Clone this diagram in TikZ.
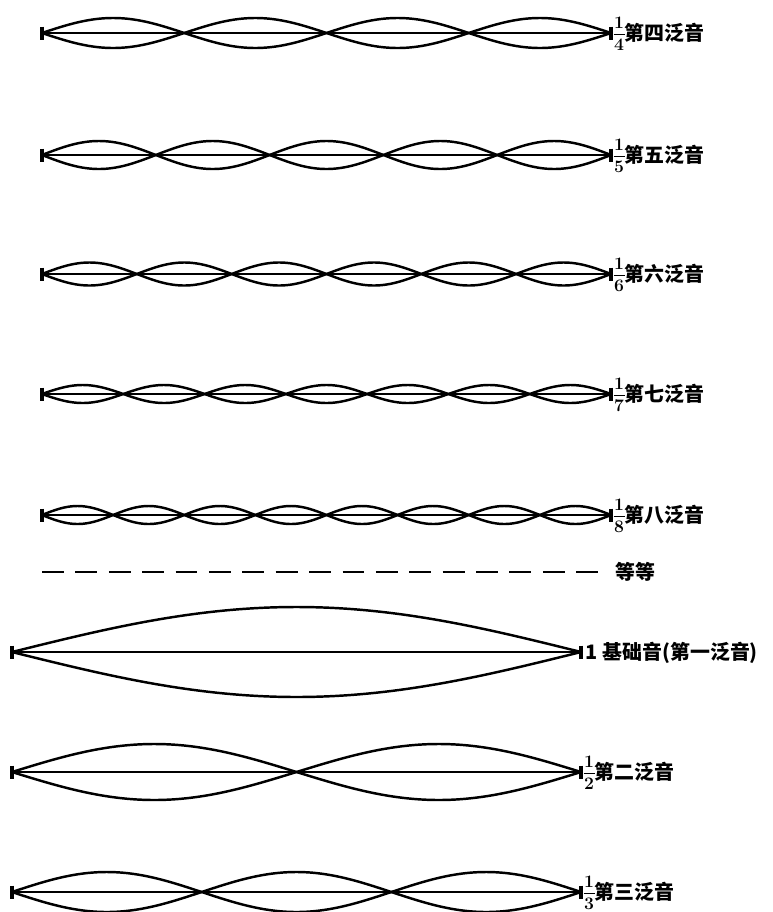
\documentclass[tikz,border=0pt]{standalone}
\usepackage{fontspec}
\newfontfamily\cjk{Noto Sans CJK SC}
\newcommand{\tonbruch}[1]{{\normalfont\bfseries\fontsize{15}{15}\selectfont
    \setlength{\tabcolsep}{0.5pt}%
    \renewcommand{\arraystretch}{1}%
    \raisebox{0pt}{\begin{tabular}{c}1\\\hline\rule{0pt}{14pt}#1\end{tabular}}}}
\begin{document}
\begin{tikzpicture}[
    x = 0.03cm,
    y = -0.03cm,
    saite/.style = {
        line width = 2.1pt,
        line join  = round
    },
    endbar/.style = {
        line width = 2.8pt
    },
    etiq/.style = {
        anchor     = base west,
        yshift     = -6pt,
        inner sep  = 1pt,
        font       = {\cjk\bfseries\fontsize{17}{19}\selectfont}
    }
]

\useasboundingbox (0,0) rectangle (772,912);

% ================================================================
%  OBERTONE 4..8 (Saite von x = 42 bis x = 611, Laenge 569)
%  \n = Nummer, \yb = Zeile, \amp = Ausschlag
% ================================================================

\foreach \n/\yb/\amp/\lab in {4/33/15/四, 5/155/14/五, 6/274/11.5/六,
                              7/394/9/七, 8/515/9/八}{
    \coordinate (a\n) at (42,\yb);
    \coordinate (b\n) at (611,\yb);
    \draw[saite] (a\n) -- (b\n);
    \draw[saite] plot[domain=0:569, samples=240]
        ({42+\x}, {\yb - \amp*sin(\n*180/569*\x)});
    \draw[saite] plot[domain=0:569, samples=240]
        ({42+\x}, {\yb + \amp*sin(\n*180/569*\x)});
    \draw[endbar] (a\n) ++(0,-6.5) -- ++(0,13);
    \draw[endbar] (b\n) ++(0,-6.5) -- ++(0,13);
    \node[etiq] (l\n) at (b\n) [xshift=1pt] {\tonbruch{\n}第\lab 泛音};
}

% ================================================================
%  GESTRICHELTE LINIE
% ================================================================

\coordinate (da) at (42,572);
\coordinate (db) at (600,572);
\draw[line width=2.1pt, dash pattern=on 18.7pt off 9.8pt] (da) -- (db);
\node[etiq] (etc) at (db) [xshift=12pt] {等等};

% ================================================================
%  GRUNDTON, 2. UND 3. OBERTON (Saite von x = 12 bis x = 581)
% ================================================================

\foreach \n/\yb/\amp in {1/652/45, 2/772/28, 3/892/20}{
    \coordinate (a\n) at (12,\yb);
    \coordinate (b\n) at (581,\yb);
    \draw[saite] (a\n) -- (b\n);
    \draw[saite] plot[domain=0:569, samples=200]
        ({12+\x}, {\yb - \amp*sin(\n*180/569*\x)});
    \draw[saite] plot[domain=0:569, samples=200]
        ({12+\x}, {\yb + \amp*sin(\n*180/569*\x)});
    \draw[endbar] (a\n) ++(0,-6.5) -- ++(0,13);
    \draw[endbar] (b\n) ++(0,-6.5) -- ++(0,13);
}

\node[etiq] (l1) at (b1) [xshift=3pt] {1 基础音(第一泛音)};
\node[etiq] (l2) at (b2) [xshift=1pt] {\tonbruch{2}第二泛音};
\node[etiq] (l3) at (b3) [xshift=1pt] {\tonbruch{3}第三泛音};

\end{tikzpicture}
\end{document}
